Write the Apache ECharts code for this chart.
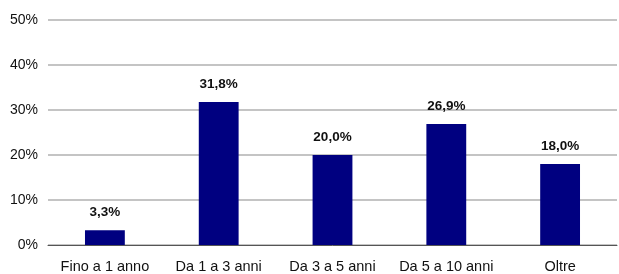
<!DOCTYPE html>
<html>
<head>
<meta charset="utf-8">
<script src="https://cdn.jsdelivr.net/npm/echarts@6/dist/echarts.min.js"></script>
<style>
  html, body { margin: 0; padding: 0; background: #fff; }
  #chart { width: 619px; height: 274px; }
</style>
</head>
<body>
<div id="chart"></div>
<script>
const categories = ["Fino a 1 anno", "Da 1 a 3 anni", "Da 3 a 5 anni", "Da 5 a 10 anni", "Oltre"];
const values = [3.3, 31.8, 20.0, 26.9, 18.0];
const yTicks = [0, 10, 20, 30, 40, 50];

const chart = echarts.init(document.getElementById("chart"));

chart.setOption({
  animation: false,
  textStyle: { fontFamily: "Liberation Sans, Arial, sans-serif" },
  grid: { left: 48, right: 2, top: 20, bottom: 28 },
  xAxis: {
    type: "category",
    data: categories,
    axisLine: { lineStyle: { color: "#555", width: 1 } },
    axisTick: { show: false },
    axisLabel: { color: "#111", fontSize: 14.5, margin: 14, interval: 0, hideOverlap: false },
  },
  yAxis: {
    type: "value",
    min: yTicks[0],
    max: yTicks[yTicks.length - 1],
    interval: 10,
    axisLine: { show: false },
    axisTick: { show: false },
    axisLabel: { color: "#111", fontSize: 14, margin: 10, formatter: "{value}%" },
    splitLine: { lineStyle: { color: "#c4c4c4", width: 2 } },
  },
  series: [
    {
      type: "bar",
      data: values,
      barWidth: "35%",
      itemStyle: { color: "#000080" },
      label: {
        show: true,
        position: "top",
        distance: 11,
        color: "#111",
        fontSize: 13.5,
        fontWeight: "bold",
        formatter: (p) => p.value.toFixed(1).replace(".", ",") + "%",
      },
    },
  ],
});
</script>
</body>
</html>
